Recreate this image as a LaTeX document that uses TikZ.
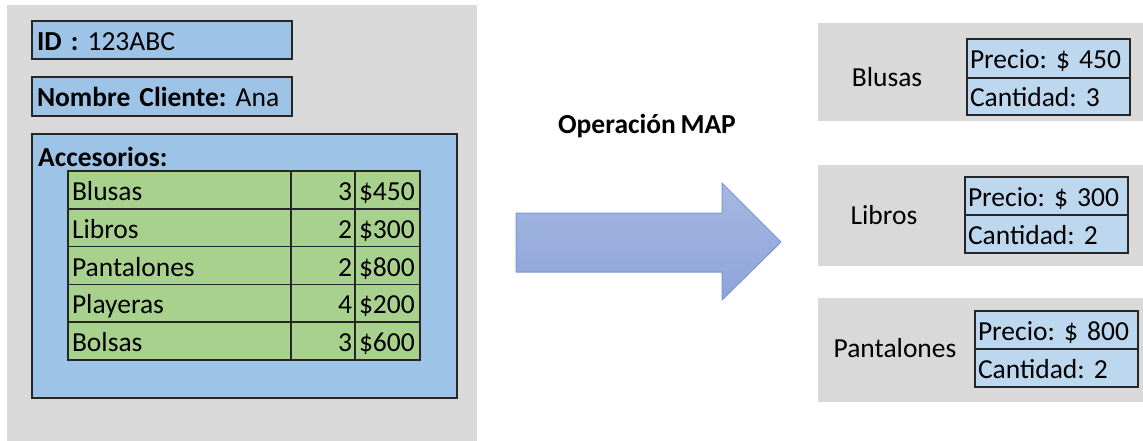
\documentclass[tikz,border=0pt]{standalone}
\usepackage{fontspec}
\setmainfont{Carlito}[WordSpace=0.75]
\usepackage{tikz}
\usetikzlibrary{positioning, shapes.geometric}
\usepackage{xcolor}
\frenchspacing
\definecolor{panelgray}{HTML}{D9D9D9}
\definecolor{boxblue}{HTML}{9DC3E6}
\definecolor{lightblue}{HTML}{BDD7EE}
\definecolor{tablegreen}{HTML}{A9D18E}
\definecolor{arrowtop}{HTML}{A6B7E1}
\definecolor{arrowbot}{HTML}{8DA5D9}
\definecolor{arrowline}{HTML}{7C97D6}
\definecolor{edge}{HTML}{262626}
\tikzstyle{panel} = [fill=panelgray, draw=none, anchor=north west, inner sep=0pt, outer sep=0pt]
\tikzstyle{bluebox} = [draw=edge, line width=1.5pt, fill=boxblue, anchor=north west, inner ysep=0pt, outer sep=0pt, align=left, text height=24pt, text depth=3pt]
\tikzstyle{cell} = [draw=edge, line width=1.5pt, fill=tablegreen, minimum height=37.8pt, inner ysep=0pt, outer sep=0pt, text height=24pt, text depth=3pt]
\tikzstyle{namecell} = [cell, text width=215pt, inner xsep=4pt, align=left]
\tikzstyle{qtycell} = [cell, text width=58pt, inner xsep=3pt, align=right]
\tikzstyle{pricecell} = [cell, text width=57pt, inner xsep=4pt, align=left]
\tikzstyle{infobox} = [draw=edge, line width=1.5pt, fill=lightblue, text width=157pt, inner xsep=3pt, inner ysep=0pt, outer sep=0pt, align=left, text height=24pt, text depth=3pt]

\begin{document}
\begin{tikzpicture}[x=1pt, y=-1pt, font=\fontsize{27.5}{32}\selectfont]
    \useasboundingbox (0,0) rectangle (1143,441);
    % left record
    \node[panel, minimum width=470pt, minimum height=436pt] (record) at (7,5) {};
    \node[bluebox, text width=250pt, inner xsep=5pt, minimum height=38pt] (id) at (32,21) {\textbf{ID :} 123ABC};
    \node[bluebox, text width=250pt, inner xsep=5pt, minimum height=39pt] (cliente) at (32,77) {\textbf{Nombre Cliente:} Ana};
    \node[bluebox, text width=415pt, inner xsep=5pt, minimum height=264pt] (acc) at (32,134) {};
    \node[anchor=west, inner sep=0pt] (acctitle) at (38,157) {\textbf{Accesorios:}};
    % table
    \node[namecell, anchor=north west] (n1) at (68,171) {Blusas};
    \node[qtycell, right=0pt of n1] (q1) {3};
    \node[pricecell, right=0pt of q1] (p1) {\$450};
    \node[namecell, below=0pt of n1] (n2) {Libros};
    \node[qtycell, right=0pt of n2] (q2) {2};
    \node[pricecell, right=0pt of q2] (p2) {\$300};
    \node[namecell, below=0pt of n2] (n3) {Pantalones};
    \node[qtycell, right=0pt of n3] (q3) {2};
    \node[pricecell, right=0pt of q3] (p3) {\$800};
    \node[namecell, below=0pt of n3] (n4) {Playeras};
    \node[qtycell, right=0pt of n4] (q4) {4};
    \node[pricecell, right=0pt of q4] (p4) {\$200};
    \node[namecell, below=0pt of n4] (n5) {Bolsas};
    \node[qtycell, right=0pt of n5] (q5) {3};
    \node[pricecell, right=0pt of q5] (p5) {\$600};
    % map arrow
    \node (maptitle) at (647,126) {\textbf{Operación MAP}};
    \draw[arrowline, line width=1pt, top color=arrowtop, bottom color=arrowbot]
        (516,213) -- (722,213) -- (722,183) -- (781,242) -- (722,300) -- (722,272) -- (516,272) -- cycle;
    % results
    \node[panel, minimum width=325pt, minimum height=98pt] (blusas) at (818,23) {};
    \node (lblusas) at (887,77) {Blusas};
    \node[infobox, anchor=north west, minimum height=39pt] (pblusas) at (967,39) {Precio: \$ 450};
    \node[infobox, below=0pt of pblusas, minimum height=37pt] (cblusas) {Cantidad: 3};
    \node[panel, minimum width=325pt, minimum height=101pt] (libros) at (818,165) {};
    \node (llibros) at (884,215) {Libros};
    \node[infobox, anchor=north west, minimum height=38pt] (plibros) at (965,177) {Precio: \$ 300};
    \node[infobox, below=0pt of plibros, minimum height=38pt] (clibros) {Cantidad: 2};
    \node[panel, minimum width=325pt, minimum height=104pt] (pantalones) at (818,298) {};
    \node (lpantalones) at (895,348) {Pantalones};
    \node[infobox, anchor=north west, minimum height=38pt] (ppantalones) at (975,311) {Precio: \$ 800};
    \node[infobox, below=0pt of ppantalones, minimum height=38pt] (cpantalones) {Cantidad: 2};
\end{tikzpicture}
\end{document}
